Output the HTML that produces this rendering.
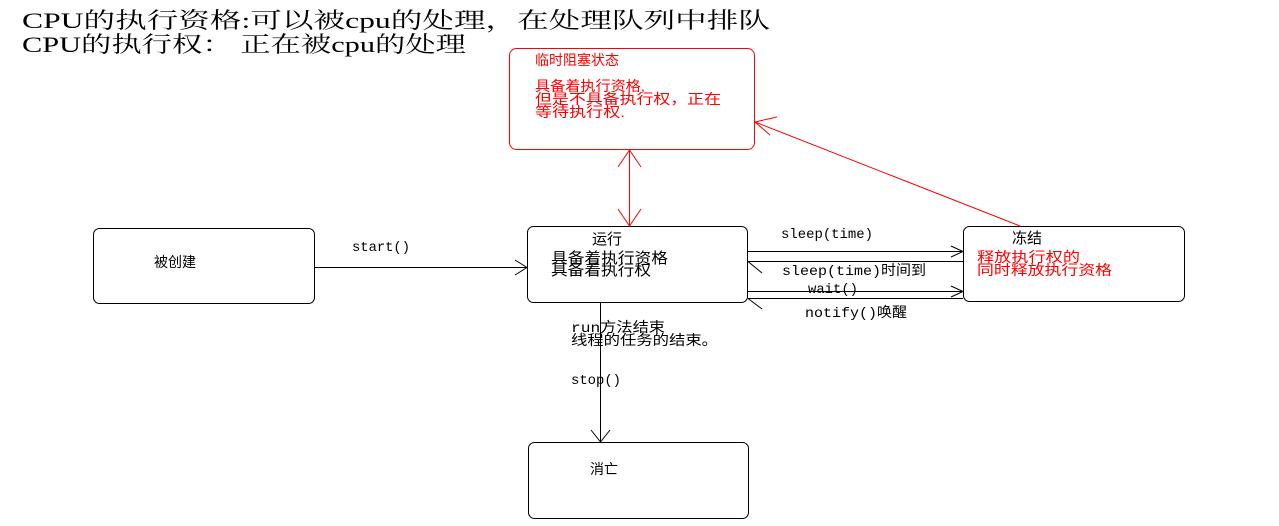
<html><body style="margin:0;background:#fff;width:1279px;height:526px;overflow:hidden">
<svg width="1279" height="526" xmlns="http://www.w3.org/2000/svg" style="font-family:'Liberation Mono','Noto Sans CJK SC',monospace">
<g font-family="'Liberation Serif','Noto Serif CJK SC',serif" font-size="22" fill="#000">
<text x="22" y="28" textLength="748" lengthAdjust="spacingAndGlyphs">CPU的执行资格:可以被cpu的处理，在处理队列中排队</text>
<text x="22" y="52" textLength="444" lengthAdjust="spacingAndGlyphs">CPU的执行权： 正在被cpu的处理</text>
</g>
<g fill="none" stroke="#000" stroke-width="1">
<rect x="93.5" y="228.5" width="221" height="75" rx="6"/>
<rect x="527.5" y="226.5" width="220" height="76" rx="6"/>
<rect x="963.5" y="226.5" width="221" height="75" rx="6"/>
<rect x="528.5" y="442.5" width="220" height="76" rx="6"/>
<path d="M314 267.5H527M515 260L527 267.5L515 275"/>
<path d="M600.5 302V442M591 430L600.5 442L610 430"/>
<path d="M748 251.5H963M951 246L963 251.5L951 257"/>
<path d="M963 261.5H748M762 273L748 261.5"/>
<path d="M748 291.5H963M951 286L963 291.5L951 297"/>
<path d="M963 298.5H748M762 309L748 298.5"/>
</g>
<g fill="none" stroke="#f00" stroke-width="1">
<rect x="509.5" y="48.5" width="245" height="101" rx="7"/>
<path d="M629.5 150V226M618 167L629.5 150L641 167M618 209L629.5 226L641 209"/>
<path d="M1020 226L755 122M777 117L755 122L770 135"/>
</g>
<g font-size="14" fill="#000">
<text x="154" y="267" font-family="'Liberation Sans','Noto Sans CJK SC',sans-serif">被创建</text>
<text x="352" y="251" textLength="58" lengthAdjust="spacingAndGlyphs">start()</text>
<text x="592" y="244" font-family="'Liberation Sans','Noto Sans CJK SC',sans-serif" font-size="15">运行</text>
<text x="551" y="263" font-family="'Liberation Sans','Noto Sans CJK SC',sans-serif" font-size="15" textLength="117" lengthAdjust="spacingAndGlyphs">具备着执行资格</text>
<text x="551" y="275" font-family="'Liberation Sans','Noto Sans CJK SC',sans-serif" font-size="15" textLength="100" lengthAdjust="spacingAndGlyphs">具备着执行权</text>
<text x="781" y="238" textLength="92" lengthAdjust="spacingAndGlyphs">sleep(time)</text>
<text x="782" y="275" textLength="144" lengthAdjust="spacingAndGlyphs">sleep(time)时间到</text>
<text x="808" y="293" textLength="50" lengthAdjust="spacingAndGlyphs">wait()</text>
<text x="805" y="317" textLength="102" lengthAdjust="spacingAndGlyphs">notify()唤醒</text>
<text x="1012" y="243" font-family="'Liberation Sans','Noto Sans CJK SC',sans-serif" font-size="15">冻结</text>
<text x="571" y="332" textLength="94" lengthAdjust="spacingAndGlyphs">run方法结束</text>
<text x="571" y="345" textLength="147" lengthAdjust="spacingAndGlyphs">线程的任务的结束。</text>
<text x="571" y="384" textLength="50" lengthAdjust="spacingAndGlyphs">stop()</text>
<text x="590" y="474" font-family="'Liberation Sans','Noto Sans CJK SC',sans-serif">消亡</text>
</g>
<g font-size="14" fill="#f00" font-family="'Liberation Sans','Noto Sans CJK SC',sans-serif">
<text x="535" y="65">临时阻塞状态</text>
<text x="535" y="91" textLength="110" lengthAdjust="spacingAndGlyphs">具备着执行资格,</text>
<text x="535" y="104" textLength="186" lengthAdjust="spacingAndGlyphs">但是不具备执行权，正在</text>
<text x="535" y="117" textLength="90" lengthAdjust="spacingAndGlyphs">等待执行权.</text>
<text x="977" y="262" textLength="103" lengthAdjust="spacingAndGlyphs">释放执行权的</text>
<text x="977" y="275" textLength="135" lengthAdjust="spacingAndGlyphs">同时释放执行资格</text>
</g>
</svg>
</body></html>
